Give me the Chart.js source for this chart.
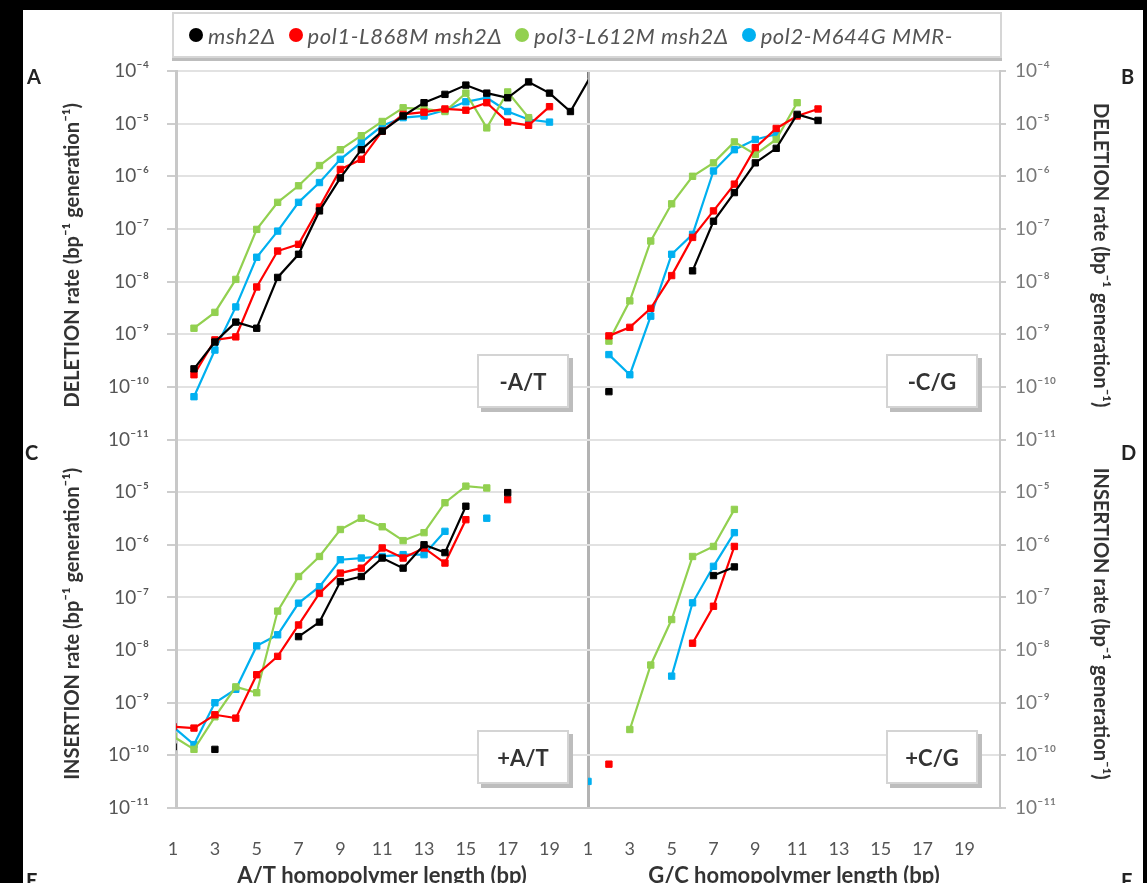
<!DOCTYPE html>
<html>
<head>
<meta charset="utf-8">
<script src="https://cdn.jsdelivr.net/npm/chart.js@4.4.1/dist/chart.umd.min.js"></script>
<style>
  html, body { margin: 0; padding: 0; background: #000; width: 1147px; height: 883px; overflow: hidden; }
  #page { position: absolute; left: 23px; top: 10px; width: 1120px; height: 873px; background: #fff; }
  #chart { position: absolute; left: 0; top: 0; }
  #legend {
    position: absolute; left: 172px; top: 12px; width: 811px; height: 42px;
    border: 2px solid #d6d6d6; box-shadow: 0 3px 0 #bdbdbd; background: #fff;
    display: flex; align-items: center; padding-left: 15px; box-sizing: content-box;
    font: italic 22px Lato, "DejaVu Sans", sans-serif; letter-spacing: 0.6px; color: #555;
    white-space: nowrap;
  }
  #legend .item { display: flex; align-items: center; margin-right: 13px; }
  #legend .dot { width: 14px; height: 14px; border-radius: 50%; margin-right: 5px; }
  .tag {
    position: absolute; width: 88px; height: 50px; background: #fff;
    border: 2px solid #d4d4d4; box-shadow: 4px 4px 0 #bdbdbd;
    display: flex; align-items: center; justify-content: center;
    font: bold 22px Lato, "DejaVu Sans", sans-serif; color: #333;
  }
  .letter { position: absolute; font: bold 20px Lato, "DejaVu Sans", sans-serif; color: #222; }
</style>
</head>
<body>
<div id="page"></div>
<canvas id="chart" width="1147" height="900"></canvas>
<div id="legend"></div>
<div class="tag" style="left:477px;top:354px">-A/T</div>
<div class="tag" style="left:886px;top:354px">-C/G</div>
<div class="tag" style="left:477px;top:730px">+A/T</div>
<div class="tag" style="left:886px;top:730px">+C/G</div>
<div class="letter" style="left:27px;top:64px">A</div>
<div class="letter" style="left:1121px;top:64px">B</div>
<div class="letter" style="left:25px;top:440px">C</div>
<div class="letter" style="left:1121px;top:440px">D</div>
<div class="letter" style="left:26px;top:868px">E</div>
<div class="letter" style="left:1121px;top:868px">F</div>
<script>
// strains (legend) and their colours
var series = ['msh2Δ', 'pol1-L868M msh2Δ', 'pol3-L612M msh2Δ', 'pol2-M644G MMR-'];
var colors = ['#000000', '#ff0000', '#92d050', '#00b0f0'];

// axis ticks
var xTicks = [1, 3, 5, 7, 9, 11, 13, 15, 17, 19];
var yTicks = [1e-11, 1e-10, 1e-9, 1e-8, 1e-7, 1e-6, 1e-5, 1e-4];
var yTickLabels = ['10⁻¹¹', '10⁻¹⁰', '10⁻⁹', '10⁻⁸', '10⁻⁷', '10⁻⁶', '10⁻⁵', '10⁻⁴'];

// A: deletion, A/T runs
var lenA = [2, 3, 4, 5, 6, 7, 8, 9, 10, 11, 12, 13, 14, 15, 16, 17, 18, 19, 20, 21];
var delAT_msh2 = [2.2e-10, 7.1e-10, 1.7e-9, 1.3e-9, 1.2e-8, 3.3e-8, 2.2e-7, 9.3e-7, 3.2e-6, 7.2e-6, 1.4e-5, 2.5e-5, 3.6e-5, 5.4e-5, 3.8e-5, 3.1e-5, 6.2e-5, 3.8e-5, 1.7e-5, 8.3e-5];
var delAT_pol1 = [1.7e-10, 7.8e-10, 8.9e-10, 7.9e-9, 3.8e-8, 5.1e-8, 2.6e-7, 1.35e-6, 2.1e-6, 7.2e-6, 1.5e-5, 1.65e-5, 1.9e-5, 1.8e-5, 2.5e-5, 1.07e-5, 9.3e-6, 2.1e-5, null, null];
var delAT_pol3 = [1.3e-9, 2.6e-9, 1.1e-8, 9.8e-8, 3.2e-7, 6.6e-7, 1.6e-6, 3.2e-6, 5.9e-6, 1.1e-5, 2.0e-5, 1.9e-5, 1.7e-5, 3.8e-5, 8.3e-6, 4.0e-5, 1.3e-5, null, null, null];
var delAT_pol2 = [6.5e-11, 5.0e-10, 3.3e-9, 2.9e-8, 9.1e-8, 3.2e-7, 7.6e-7, 2.1e-6, 4.4e-6, 9.1e-6, 1.3e-5, 1.4e-5, 1.8e-5, 2.6e-5, 3.1e-5, 1.7e-5, 1.2e-5, 1.07e-5, null, null];

// B: deletion, G/C runs
var lenB = [2, 3, 4, 5, 6, 7, 8, 9, 10, 11, 12];
var delGC_msh2 = [8.1e-11, null, null, null, 1.6e-8, 1.4e-7, 4.9e-7, 1.8e-6, 3.4e-6, 1.5e-5, 1.15e-5];
var delGC_pol1 = [9.3e-10, 1.35e-9, 3.1e-9, 1.3e-8, 6.9e-8, 2.2e-7, 7.1e-7, 3.5e-6, 8.1e-6, 1.4e-5, 1.9e-5];
var delGC_pol3 = [7.4e-10, 4.3e-9, 5.9e-8, 3.0e-7, 1.0e-6, 1.8e-6, 4.5e-6, 2.6e-6, 5.0e-6, 2.5e-5, null];
var delGC_pol2 = [4.1e-10, 1.7e-10, 2.2e-9, 3.3e-8, 7.9e-8, 1.26e-6, 3.2e-6, 5.0e-6, 6.3e-6, null, null];

// C: insertion, A/T runs
var lenC = [1, 2, 3, 4, 5, 6, 7, 8, 9, 10, 11, 12, 13, 14, 15, 16, 17];
var insAT_msh2 = [1.45e-10, null, 1.3e-10, null, null, null, 1.8e-8, 3.4e-8, 2.0e-7, 2.5e-7, 5.6e-7, 3.6e-7, 1.0e-6, 7.1e-7, 5.4e-6, null, 9.8e-6];
var insAT_pol1 = [3.5e-10, 3.3e-10, 5.9e-10, 5.1e-10, 3.4e-9, 7.6e-9, 3.0e-8, 1.2e-7, 2.9e-7, 3.6e-7, 8.7e-7, 5.6e-7, 8.7e-7, 4.5e-7, 3.0e-6, null, 7.2e-6];
var insAT_pol3 = [2.3e-10, 1.3e-10, 5.4e-10, 2.0e-9, 1.55e-9, 5.5e-8, 2.5e-7, 6.0e-7, 1.95e-6, 3.2e-6, 2.2e-6, 1.2e-6, 1.7e-6, 6.3e-6, 1.3e-5, 1.2e-5, null];
var insAT_pol2 = [3.5e-10, 1.6e-10, 1.0e-9, 1.8e-9, 1.2e-8, 1.95e-8, 7.8e-8, 1.6e-7, 5.2e-7, 5.6e-7, 6.0e-7, 6.5e-7, 6.5e-7, 1.8e-6, null, 3.2e-6, null];

// D: insertion, G/C runs
var lenD = [1, 2, 3, 4, 5, 6, 7, 8];
var insGC_msh2 = [null, null, null, null, null, null, 2.6e-7, 3.8e-7];
var insGC_pol1 = [null, 6.8e-11, null, null, null, 1.35e-8, 6.8e-8, 9.3e-7];
var insGC_pol3 = [null, null, 3.1e-10, 5.2e-9, 3.8e-8, 6.0e-7, 9.3e-7, 4.7e-6];
var insGC_pol2 = [3.2e-11, null, null, null, 3.2e-9, 7.9e-8, 3.9e-7, 1.7e-6];

// legend
var legend = document.getElementById('legend');
series.forEach(function (name, i) {
    var item = document.createElement('div');
    item.className = 'item';
    item.innerHTML = '<span class="dot" style="background:' + colors[i] + '"></span><span>' + name + '</span>';
    legend.appendChild(item);
});

// build the 16 datasets
var datasets = [];
function addPanel(lengths, values, xId, yId) {
    values.forEach(function (vals, i) {
        datasets.push({
            label: series[i],
            xAxisID: xId,
            yAxisID: yId,
            data: lengths.map(function (L, k) { return { x: L, y: vals[k] }; }),
            borderColor: colors[i],
            backgroundColor: colors[i],
            pointBackgroundColor: colors[i],
            pointBorderColor: colors[i],
            borderWidth: 2.2,
            pointStyle: 'rect',
            pointRadius: 4.5,
            pointBorderWidth: 1,
            tension: 0,
            spanGaps: false
        });
    });
}
addPanel(lenA, [delAT_msh2, delAT_pol1, delAT_pol3, delAT_pol2], 'xAT', 'yDel');
addPanel(lenB, [delGC_msh2, delGC_pol1, delGC_pol3, delGC_pol2], 'xGC', 'yDel');
addPanel(lenC, [insAT_msh2, insAT_pol1, insAT_pol3, insAT_pol2], 'xAT', 'yIns');
addPanel(lenD, [insGC_msh2, insGC_pol1, insGC_pol3, insGC_pol2], 'xGC', 'yIns');

Chart.defaults.font.family = 'Lato, "DejaVu Sans", sans-serif';
Chart.defaults.color = '#555';

function yLabel(v) {
    var i = yTicks.findIndex(function (t) { return Math.abs(Math.log10(t) - Math.log10(v)) < 0.01; });
    return i < 0 ? '' : yTickLabels[i];
}

function yAxis(pos, ticks, titleText, gridOnArea) {
    var left = pos === 'left';
    return {
        type: 'logarithmic',
        position: pos,
        stack: pos,
        stackWeight: 1,
        min: 1e-11,
        max: 1e-4,
        afterBuildTicks: function (s) { s.ticks = ticks.map(function (v) { return { value: v }; }); },
        afterFit: function (s) { s.width = left ? 176 : 147; },
        ticks: {
            callback: yLabel,
            font: { size: 19 },
            color: left ? '#555' : '#777',
            padding: left ? 18 : 9,
            autoSkip: false
        },
        grid: {
            drawOnChartArea: gridOnArea,
            color: '#e2e2e2',
            lineWidth: 2,
            tickLength: left ? 9 : 6,
            tickColor: '#cdcdcd'
        },
        border: { color: '#c8c8c8', width: left ? 3 : 2 },
        title: {
            display: true,
            text: titleText,
            font: { size: 20, weight: 'bold' },
            color: '#333',
            padding: { top: left ? 61 : 35 }
        }
    };
}

function xAxis(titleText, divider, min) {
    return {
        type: 'linear',
        position: 'bottom',
        stack: 'x',
        stackWeight: 1,
        min: min,
        max: min + 19.7,
        afterBuildTicks: function (s) { s.ticks = xTicks.map(function (v) { return { value: v }; }); },
        afterFit: function (s) { s.height = 92; },
        ticks: { font: { size: 18 }, color: '#555', padding: 30, autoSkip: false, maxRotation: 0 },
        grid: {
            display: divider,
            drawTicks: false,
            lineWidth: 3,
            color: function (ctx) { return ctx.tick && ctx.tick.value === 1 ? '#b3b3b3' : 'rgba(0,0,0,0)'; }
        },
        border: { color: '#c8c8c8', width: 2 },
        title: {
            display: true,
            text: titleText,
            font: { size: 22, weight: 'bold' },
            color: '#333',
            padding: { bottom: 11 }
        }
    };
}

var insTicks = yTicks.slice(0, 7);
var rate = ' rate (bp⁻¹ generation⁻¹)';

new Chart(document.getElementById('chart').getContext('2d'), {
    type: 'line',
    data: { datasets: datasets },
    options: {
        responsive: false,
        animation: false,
        layout: { padding: { top: 71, left: 0, right: 0, bottom: 0 } },
        plugins: { legend: { display: false }, tooltip: { enabled: false } },
        scales: {
            xAT: xAxis('A/T homopolymer length (bp)', false, 1.14),
            xGC: xAxis('G/C homopolymer length (bp)', true, 1),
            yIns: yAxis('left', insTicks, 'INSERTION' + rate, true),
            yDel: yAxis('left', yTicks, 'DELETION' + rate, true),
            yDelR: yAxis('right', yTicks, 'DELETION' + rate, false),
            yInsR: yAxis('right', insTicks, 'INSERTION' + rate, false)
        }
    }
});
</script>
</body>
</html>
